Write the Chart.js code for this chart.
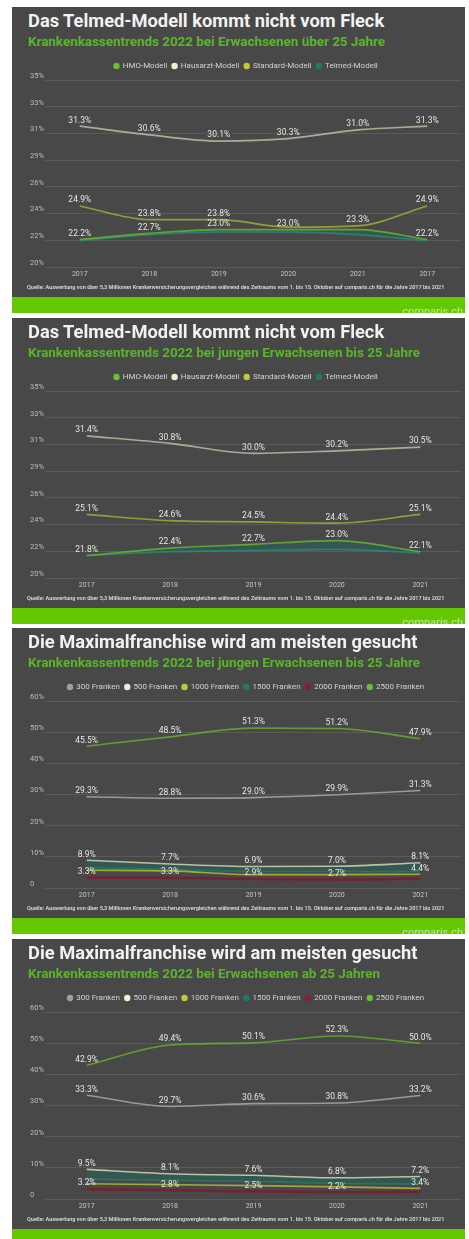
<!DOCTYPE html>
<html lang="de">
<head>
<meta charset="utf-8">
<title>Krankenkassentrends 2022</title>
<script src="https://cdn.jsdelivr.net/npm/chart.js@4.4.1/dist/chart.umd.min.js"></script>
<style>
  html, body { margin: 0; padding: 0; background: #fff; }
  body { width: 469px; height: 1239px; overflow: hidden; position: relative; font-family: Roboto, sans-serif; }
  .panel { position: absolute; left: 12px; width: 453px; height: 306px; background: #484848; overflow: hidden; }
  .title { position: absolute; left: 16px; top: 5px; font-size: 18.3px; font-weight: 700; line-height: 18px; color: #f2f2f2; white-space: nowrap; }
  .sub { position: absolute; left: 16px; top: 28px; font-size: 13.4px; font-weight: 700; line-height: 14px; color: #5ab52a; white-space: nowrap; }
  .plot { position: absolute; left: 0; top: 48px; width: 453px; height: 230px; }
  .src { position: absolute; left: 15px; top: 277px; font-size: 5.55px; font-weight: 500; line-height: 6px; color: #e2e2e2; white-space: nowrap; }
  .foot { position: absolute; left: 0; top: 290px; width: 453px; height: 16px; background: #64c800; overflow: hidden; }
  .foot span { position: absolute; right: 2px; top: 9px; font-size: 11px; line-height: 11px; color: rgba(255, 255, 255, 0.6); }
</style>
</head>
<body>

<div class="panel" style="top:7px">
  <div class="title">Das Telmed-Modell kommt nicht vom Fleck</div>
  <div class="sub">Krankenkassentrends 2022 bei Erwachsenen über 25 Jahre</div>
  <div class="plot"><canvas id="chart1"></canvas></div>
  <div class="src">Quelle: Auswertung von über 5,3 Millionen Krankenversicherungsvergleichen während des Zeitraums vom 1. bis 15. Oktober auf comparis.ch für die Jahre 2017 bis 2021</div>
  <div class="foot"><span>comparis.ch</span></div>
</div>

<div class="panel" style="top:318px">
  <div class="title">Das Telmed-Modell kommt nicht vom Fleck</div>
  <div class="sub">Krankenkassentrends 2022 bei jungen Erwachsenen bis 25 Jahre</div>
  <div class="plot"><canvas id="chart2"></canvas></div>
  <div class="src">Quelle: Auswertung von über 5,3 Millionen Krankenversicherungsvergleichen während des Zeitraums vom 1. bis 15. Oktober auf comparis.ch für die Jahre 2017 bis 2021</div>
  <div class="foot"><span>comparis.ch</span></div>
</div>

<div class="panel" style="top:628px">
  <div class="title">Die Maximalfranchise wird am meisten gesucht</div>
  <div class="sub">Krankenkassentrends 2022 bei jungen Erwachsenen bis 25 Jahre</div>
  <div class="plot"><canvas id="chart3"></canvas></div>
  <div class="src">Quelle: Auswertung von über 5,3 Millionen Krankenversicherungsvergleichen während des Zeitraums vom 1. bis 15. Oktober auf comparis.ch für die Jahre 2017 bis 2021</div>
  <div class="foot"><span>comparis.ch</span></div>
</div>

<div class="panel" style="top:939px">
  <div class="title">Die Maximalfranchise wird am meisten gesucht</div>
  <div class="sub">Krankenkassentrends 2022 bei Erwachsenen ab 25 Jahren</div>
  <div class="plot"><canvas id="chart4"></canvas></div>
  <div class="src">Quelle: Auswertung von über 5,3 Millionen Krankenversicherungsvergleichen während des Zeitraums vom 1. bis 15. Oktober auf comparis.ch für die Jahre 2017 bis 2021</div>
  <div class="foot"><span>comparis.ch</span></div>
</div>

<script>
'use strict';

/* ── Data ─────────────────────────────────────────────────── */

// the first chart repeats 2017 at the end, as in the original graphic
const YEARS_P1 = ['2017', '2018', '2019', '2020', '2021', '2017'];
const YEARS = ['2017', '2018', '2019', '2020', '2021'];

const MODELS = ['HMO-Modell', 'Hausarzt-Modell', 'Standard-Modell', 'Telmed-Modell'];
const FRANCHISES = ['300 Franken', '500 Franken', '1000 Franken', '1500 Franken', '2000 Franken', '2500 Franken'];

// Chart 1 – Erwachsene über 25 Jahre (share in %)
const p1Hmo      = [22.2, 22.7, 23.0, 23.0, 23.0, 22.2];
const p1Hausarzt = [31.3, 30.6, 30.1, 30.3, 31.0, 31.3];
const p1Standard = [24.9, 23.8, 23.8, 23.2, 23.3, 24.9];
const p1Telmed   = [22.1, 22.6, 22.8, 22.8, 22.6, 22.1];

// Chart 2 – junge Erwachsene bis 25 Jahre
const p2Hmo      = [21.8, 22.4, 22.7, 23.0, 22.1];
const p2Hausarzt = [31.4, 30.8, 30.0, 30.2, 30.5];
const p2Standard = [25.1, 24.6, 24.5, 24.4, 25.1];
const p2Telmed   = [21.8, 22.1, 22.2, 22.3, 22.0];

// Chart 3 – Franchise, junge Erwachsene bis 25 Jahre
const p3Fr300  = [29.3, 28.8, 29.0, 29.9, 31.3];
const p3Fr500  = [8.9, 7.7, 6.9, 7.0, 8.1];
const p3Fr1000 = [5.7, 5.5, 4.3, 4.3, 4.4];
const p3Fr1500 = [6.5, 6.0, 5.3, 5.3, 5.2];
const p3Fr2000 = [3.3, 3.3, 2.9, 2.7, 3.0];
const p3Fr2500 = [45.5, 48.5, 51.3, 51.2, 47.9];

// Chart 4 – Franchise, Erwachsene ab 25 Jahren
const p4Fr300  = [33.3, 29.7, 30.6, 30.8, 33.2];
const p4Fr500  = [9.5, 8.1, 7.6, 6.8, 7.2];
const p4Fr1000 = [4.9, 4.6, 4.3, 3.9, 3.4];
const p4Fr1500 = [6.3, 6.0, 5.6, 5.0, 4.8];
const p4Fr2000 = [3.2, 2.8, 2.5, 2.2, 2.3];
const p4Fr2500 = [42.9, 49.4, 50.1, 52.3, 50.0];

// which value labels are printed (1 = visible); overlapping ones are left out like in the original
const ALL_5 = [1, 1, 1, 1, 1];
const ALL_6 = [1, 1, 1, 1, 1, 1];
const NONE = [];
const p1HmoLabels      = [1, 1, 1, 1, 0, 1];
const p1StandardLabels = [1, 1, 1, 0, 1, 1];
const lowFr1000Labels  = [0, 0, 0, 0, 1];
const lowFr2000Labels  = [1, 1, 1, 1, 0];

/* ── Styling ──────────────────────────────────────────────── */

const FONT = 'Roboto, "Noto Sans", sans-serif';

const COLORS = {
  hmo:      '#6cc02e',
  hausarzt: '#e8f4cc',
  standard: '#c2c932',
  telmed:   '#1e7b6b',
  fr300:    '#9e9e9e',
  fr500:    '#e8f4cc',
  fr1000:   '#c2c932',
  fr1500:   '#1e7b6b',
  fr2000:   '#8c1c34',
  fr2500:   '#6cc02e',
};

const LINES = {
  hmo:      'rgba(108, 192, 46, 0.75)',
  hausarzt: 'rgba(222, 236, 196, 0.62)',
  standard: 'rgba(194, 201, 50, 0.65)',
  telmed:   'rgba(40, 140, 120, 0.8)',
  fr300:    '#9a9a9a',
  fr500:    'rgba(222, 236, 196, 0.75)',
  fr1000:   'rgba(194, 201, 50, 0.75)',
  fr1500:   'rgba(40, 120, 100, 0.9)',
  fr2000:   '#742233',
  fr2500:   'rgba(108, 192, 46, 0.7)',
};

const BAND = 'rgba(30, 110, 95, 0.42)';

/* ── Value label plugin ───────────────────────────────────── */

const valueLabels = {
  id: 'valueLabels',
  afterDatasetsDraw(chart) {
    const { ctx } = chart;
    ctx.save();
    ctx.font = `400 8.5px ${FONT}`;
    ctx.fillStyle = '#e6e6e6';
    ctx.textAlign = 'center';
    ctx.textBaseline = 'bottom';
    chart.data.datasets.forEach((ds, i) => {
      const meta = chart.getDatasetMeta(i);
      meta.data.forEach((pt, j) => {
        if (!ds.valueLabels[j]) return;
        ctx.fillText(ds.data[j].toFixed(1) + '%', pt.x, pt.y - 1.5);
      });
    });
    ctx.restore();
  },
};

/* ── Chart factory ────────────────────────────────────────── */

/**
 * @param {HTMLCanvasElement} canvas
 * @param {string[]} labels
 * @param {Array<{name:string, data:number[], key:string, shown:number[], fillTo?:number, width?:number}>} series
 * @param {{min:number, max:number, count?:number, stepSize?:number, format:(v:number)=>string}} yAxis
 */
function createTrendChart(canvas, labels, series, yAxis) {
  return new Chart(canvas, {
    type: 'line',
    data: {
      labels,
      datasets: series.map(s => ({
        label: s.name,
        data: s.data,
        borderColor: LINES[s.key],
        backgroundColor: s.fillTo !== undefined ? BAND : COLORS[s.key],
        legendColor: COLORS[s.key],
        borderWidth: s.width || 1.6,
        pointRadius: 0,
        pointHoverRadius: 0,
        cubicInterpolationMode: 'monotone',
        fill: s.fillTo !== undefined ? s.fillTo : false,
        valueLabels: s.shown,
      })),
    },
    options: {
      responsive: true,
      maintainAspectRatio: false,
      animation: false,
      layout: { padding: { top: 2, left: 18, right: 3, bottom: 3.6 } },
      plugins: {
        legend: {
          display: true,
          position: 'top',
          labels: {
            color: '#d2d2d2',
            font: { family: FONT, size: 8 },
            usePointStyle: true,
            boxWidth: 4.5,
            boxHeight: 4.5,
            padding: 5,
            generateLabels(chart) {
              return chart.data.datasets.map((ds, i) => ({
                text: ds.label,
                fillStyle: ds.legendColor,
                strokeStyle: ds.legendColor,
                fontColor: '#d2d2d2',
                lineWidth: 0,
                pointStyle: 'circle',
                datasetIndex: i,
              }));
            },
          },
        },
        tooltip: { enabled: false },
      },
      scales: {
        x: {
          offset: true,
          grid: { display: false, drawTicks: false },
          border: { display: false },
          ticks: {
            color: '#c6c6c6',
            font: { family: FONT, size: 7 },
            padding: 3,
            maxRotation: 0,
            autoSkip: false,
          },
        },
        y: {
          min: yAxis.min,
          max: yAxis.max,
          grid: { color: '#5a5a5a', lineWidth: 1, drawTicks: false },
          border: { display: false },
          ticks: {
            count: yAxis.count,
            stepSize: yAxis.stepSize,
            color: '#bdbdbd',
            font: { family: FONT, size: 7.5 },
            crossAlign: 'far',
            labelOffset: -4,
            padding: 0,
            callback: yAxis.format,
          },
          afterFit(scale) { scale.width = 15; },
        },
      },
    },
    plugins: [valueLabels],
  });
}

/* ── Build ────────────────────────────────────────────────── */

const modelAxis = { min: 20, max: 35, count: 8, format: v => Math.round(v) + '%' };
const franchiseAxis = { min: 0, max: 60, stepSize: 10, format: v => v === 0 ? '0' : v + '%' };

createTrendChart(document.getElementById('chart1'), YEARS_P1, [
  { name: MODELS[0], key: 'hmo',      data: p1Hmo,      shown: p1HmoLabels },
  { name: MODELS[1], key: 'hausarzt', data: p1Hausarzt, shown: ALL_6 },
  { name: MODELS[2], key: 'standard', data: p1Standard, shown: p1StandardLabels },
  { name: MODELS[3], key: 'telmed',   data: p1Telmed,   shown: NONE, fillTo: 0 },
], modelAxis);

createTrendChart(document.getElementById('chart2'), YEARS, [
  { name: MODELS[0], key: 'hmo',      data: p2Hmo,      shown: ALL_5 },
  { name: MODELS[1], key: 'hausarzt', data: p2Hausarzt, shown: ALL_5 },
  { name: MODELS[2], key: 'standard', data: p2Standard, shown: ALL_5 },
  { name: MODELS[3], key: 'telmed',   data: p2Telmed,   shown: NONE, fillTo: 0 },
], modelAxis);

createTrendChart(document.getElementById('chart3'), YEARS, [
  { name: FRANCHISES[0], key: 'fr300',  data: p3Fr300,  shown: ALL_5 },
  { name: FRANCHISES[1], key: 'fr500',  data: p3Fr500,  shown: ALL_5 },
  { name: FRANCHISES[2], key: 'fr1000', data: p3Fr1000, shown: lowFr1000Labels },
  { name: FRANCHISES[3], key: 'fr1500', data: p3Fr1500, shown: NONE, fillTo: 1 },
  { name: FRANCHISES[4], key: 'fr2000', data: p3Fr2000, shown: lowFr2000Labels, width: 2.5 },
  { name: FRANCHISES[5], key: 'fr2500', data: p3Fr2500, shown: ALL_5 },
], franchiseAxis);

createTrendChart(document.getElementById('chart4'), YEARS, [
  { name: FRANCHISES[0], key: 'fr300',  data: p4Fr300,  shown: ALL_5 },
  { name: FRANCHISES[1], key: 'fr500',  data: p4Fr500,  shown: ALL_5 },
  { name: FRANCHISES[2], key: 'fr1000', data: p4Fr1000, shown: lowFr1000Labels },
  { name: FRANCHISES[3], key: 'fr1500', data: p4Fr1500, shown: NONE, fillTo: 1 },
  { name: FRANCHISES[4], key: 'fr2000', data: p4Fr2000, shown: lowFr2000Labels, width: 2.5 },
  { name: FRANCHISES[5], key: 'fr2500', data: p4Fr2500, shown: ALL_5 },
], franchiseAxis);
</script>
</body>
</html>
